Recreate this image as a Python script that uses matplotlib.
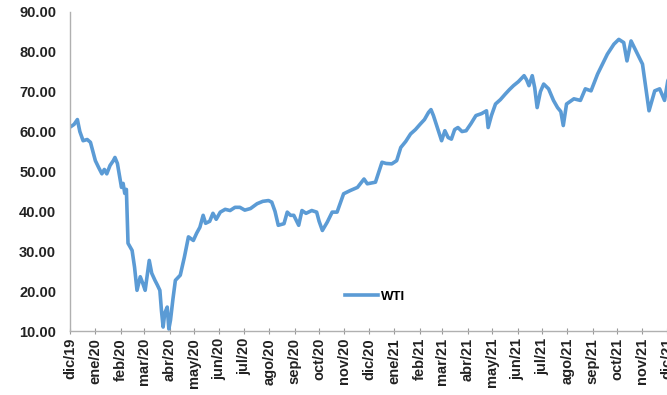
import matplotlib
matplotlib.use("Agg")
import matplotlib.pyplot as plt
import matplotlib.dates as mdates
import pandas as pd

# WTI crude, USD per barrel
dates = [
    "2019-12-01", "2019-12-06", "2019-12-10", "2019-12-13", "2019-12-17", "2019-12-22",
    "2019-12-26", "2020-01-01", "2020-01-05", "2020-01-09", "2020-01-12", "2020-01-15",
    "2020-01-19", "2020-01-23", "2020-01-25", "2020-01-28", "2020-02-02", "2020-02-04",
    "2020-02-06", "2020-02-08", "2020-02-10", "2020-02-15", "2020-02-18", "2020-02-21",
    "2020-02-25", "2020-02-28", "2020-03-02", "2020-03-07", "2020-03-10", "2020-03-14",
    "2020-03-17", "2020-03-20", "2020-03-22", "2020-03-24", "2020-03-26", "2020-03-29",
    "2020-03-31", "2020-04-02", "2020-04-05", "2020-04-08", "2020-04-14", "2020-04-19",
    "2020-04-24", "2020-04-30", "2020-05-04", "2020-05-08", "2020-05-12", "2020-05-15",
    "2020-05-20", "2020-05-24", "2020-05-28", "2020-06-02", "2020-06-08", "2020-06-14",
    "2020-06-20", "2020-06-26", "2020-07-02", "2020-07-09", "2020-07-17", "2020-07-24",
    "2020-07-31", "2020-08-04", "2020-08-08", "2020-08-12", "2020-08-19", "2020-08-23",
    "2020-08-27", "2020-08-31", "2020-09-06", "2020-09-10", "2020-09-15", "2020-09-22",
    "2020-09-28", "2020-10-01", "2020-10-05", "2020-10-11", "2020-10-17", "2020-10-23",
    "2020-10-31", "2020-11-08", "2020-11-17", "2020-11-25", "2020-11-29", "2020-12-09",
    "2020-12-17", "2020-12-22", "2020-12-29", "2021-01-04", "2021-01-09", "2021-01-15",
    "2021-01-21", "2021-01-27", "2021-02-02", "2021-02-07", "2021-02-12", "2021-02-15",
    "2021-02-18", "2021-02-24", "2021-02-28", "2021-03-04", "2021-03-08", "2021-03-12",
    "2021-03-16", "2021-03-20", "2021-03-25", "2021-03-30", "2021-04-05", "2021-04-11",
    "2021-04-18", "2021-04-24", "2021-04-26", "2021-04-30", "2021-05-05", "2021-05-11",
    "2021-05-17", "2021-05-22", "2021-05-27", "2021-06-02", "2021-06-09", "2021-06-12",
    "2021-06-15", "2021-06-19", "2021-06-22", "2021-06-25", "2021-06-29", "2021-07-03",
    "2021-07-09", "2021-07-15", "2021-07-20", "2021-07-24", "2021-07-27", "2021-07-31",
    "2021-08-09", "2021-08-17", "2021-08-23", "2021-08-30", "2021-09-07", "2021-09-12",
    "2021-09-19", "2021-09-27", "2021-10-03", "2021-10-09", "2021-10-13", "2021-10-18",
    "2021-10-26", "2021-11-01", "2021-11-05", "2021-11-09", "2021-11-16", "2021-11-22",
    "2021-11-28", "2021-12-02", "2021-12-05",
]
wti = [
    61.1, 61.8, 63.0, 60.0, 57.7, 58.0,
    57.3, 52.7, 51.0, 49.4, 50.5, 49.4,
    51.5, 52.7, 53.5, 52.0, 46.0, 47.0,
    44.5, 45.5, 32.0, 30.2, 26.0, 20.2,
    23.6, 22.0, 20.2, 27.7, 24.5, 22.7,
    21.5, 20.2, 15.0, 11.0, 14.5, 16.0,
    10.5, 12.7, 18.0, 22.7, 24.0, 28.5,
    33.6, 32.7, 34.5, 36.0, 39.0, 37.0,
    37.5, 39.5, 38.0, 39.8, 40.5, 40.2,
    41.0, 41.0, 40.3, 40.7, 41.9, 42.5,
    42.7, 42.3, 40.0, 36.5, 36.9, 39.8,
    39.0, 39.0, 36.5, 40.2, 39.5, 40.2,
    39.8, 37.5, 35.2, 37.3, 39.8, 39.8,
    44.4, 45.2, 46.0, 48.1, 46.9, 47.3,
    52.3, 52.0, 51.9, 52.7, 56.0, 57.5,
    59.4, 60.5, 61.9, 63.0, 64.8, 65.5,
    64.0, 60.2, 57.7, 60.2, 58.5, 58.1,
    60.5, 61.0, 60.0, 60.2, 62.0, 64.0,
    64.5, 65.2, 61.0, 64.0, 66.9, 68.0,
    69.4, 70.5, 71.5, 72.5, 74.0, 73.0,
    71.5, 74.0, 71.0, 66.0, 70.0, 71.9,
    70.7, 67.8, 66.0, 65.0, 61.5, 66.9,
    68.2, 67.8, 70.7, 70.2, 74.4, 76.5,
    79.4, 81.9, 83.1, 82.3, 77.7, 82.7,
    79.4, 76.9, 71.0, 65.2, 70.2, 70.7,
    67.8, 72.7, 74.0,
]
month_names = ["ene", "feb", "mar", "abr", "may", "jun",
               "jul", "ago", "sep", "oct", "nov", "dic"]

x = pd.to_datetime(dates)

fig = plt.figure(figsize=(6.67, 3.95), dpi=100)
ax = fig.add_axes([0.105, 0.162, 0.906, 0.808])

ax.plot(x, wti, color="#5B9BD5", lw=2.6, label="WTI", solid_joinstyle="round")

ax.set_ylim(10, 90)
ax.set_yticks(range(10, 91, 10))
ax.set_yticklabels([f"{v:.2f}" for v in range(10, 91, 10)])
ax.set_xlim(pd.Timestamp("2019-12-01"), pd.Timestamp("2021-12-10"))

ax.xaxis.set_major_locator(mdates.MonthLocator())
ax.xaxis.set_major_formatter(
    plt.FuncFormatter(lambda v, _: "{}/{}".format(
        month_names[mdates.num2date(v).month - 1], mdates.num2date(v).strftime("%y"))))

for lbl in ax.get_xticklabels() + ax.get_yticklabels():
    lbl.set_fontfamily("Liberation Sans")
    lbl.set_fontweight("bold")
    lbl.set_fontsize(10.5)
    lbl.set_color("#222222")
for lbl in ax.get_xticklabels():
    lbl.set_rotation(90)

ax.tick_params(axis="x", direction="inout", length=4, color="#999999", pad=3)
ax.tick_params(axis="y", length=0, pad=10)

for side in ("top", "right"):
    ax.spines[side].set_visible(False)
for side in ("left", "bottom"):
    ax.spines[side].set_color("#b0b0b0")
    ax.spines[side].set_linewidth(1.0)

leg = ax.legend(loc="center left", bbox_to_anchor=(0.455, 0.107), frameon=False,
                handlelength=2.5, handletextpad=0.2, borderpad=0, borderaxespad=0,
                prop={"family": "Liberation Sans", "weight": "bold", "size": 9.5})

fig.savefig("out.png", dpi=100)
